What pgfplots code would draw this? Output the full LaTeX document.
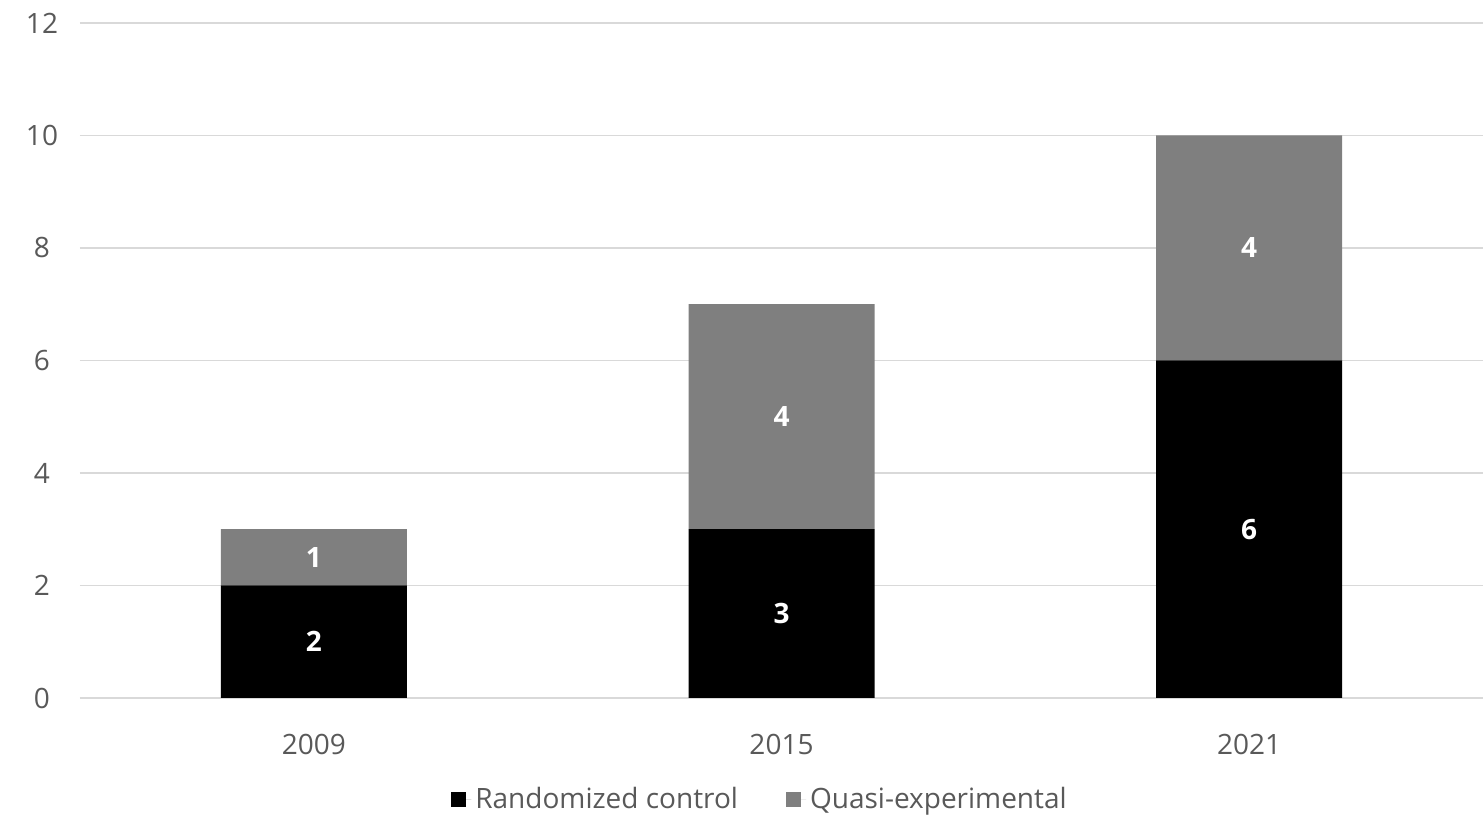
\documentclass[border=0pt]{standalone}
\usepackage{pgfplots}
\pgfplotsset{compat=1.18}
\usepackage{fontspec}
\setmainfont{Open Sans}
\definecolor{tickgray}{HTML}{595959}
\definecolor{gridgray}{HTML}{D9D9D9}
\definecolor{quasi}{HTML}{7F7F7F}
\begin{document}
\fontsize{14pt}{17pt}\selectfont
\begin{tikzpicture}
\begin{axis}[
  at={(0,0)}, anchor=south west,
  scale only axis,
  width=701.5pt, height=337.5pt,
  ybar stacked,
  bar width=93pt,
  xmin=-0.5, xmax=2.5,
  ymin=0, ymax=12,
  ytick={0,2,4,6,8,10,12},
  xtick=data,
  xticklabels={2009,2015,2021},
  ymajorgrids,
  grid style={gridgray, line width=0.8pt},
  axis x line*=bottom,
  axis y line*=left,
  x axis line style={gridgray, line width=0.8pt, -},
  y axis line style={draw=none, -},
  major tick length=0pt,
  tick label style={font=\fontsize{14pt}{17pt}\selectfont, text=tickgray},
  /pgf/number format/assume math mode=true,
  yticklabel style={anchor=center, xshift=-19pt},
  xticklabel style={yshift=-13pt},
  legend style={
    at={(0.4854,-0.151)}, anchor=center,
    legend columns=2, draw=none,
    font=\fontsize{14pt}{17pt}\selectfont, text=tickgray,
    /tikz/every even column/.append style={column sep=22pt}
  },
  legend image code/.code={\path (0pt,0pt) -- (10pt,0pt); \fill[#1] (0pt,-3.75pt) rectangle (7.5pt,3.75pt);},
  nodes near coords={\pgfmathprintnumber{\pgfplotspointmeta}},
  nodes near coords style={font=\bfseries\fontsize{14pt}{17pt}\selectfont, text=white},
  point meta=explicit,
]
\addplot[fill=black, draw=none]
  coordinates {(0,2) [2] (1,3) [3] (2,6) [6]};
\addplot[fill=quasi, draw=none]
  coordinates {(0,1) [1] (1,4) [4] (2,4) [4]};
\legend{Randomized control, Quasi-experimental}
\end{axis}
\pgfresetboundingbox
\useasboundingbox (-40pt,-60pt) rectangle (701.5pt,349pt);
\end{tikzpicture}
\end{document}
